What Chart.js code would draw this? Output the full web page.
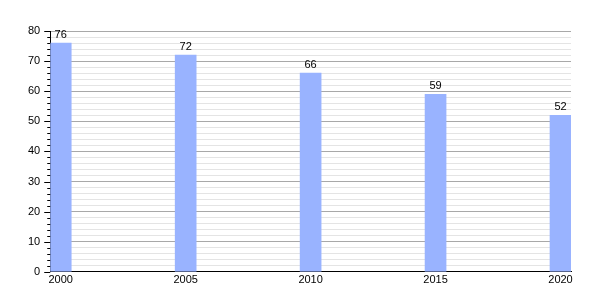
<!DOCTYPE html>
<html>
<head>
<meta charset="utf-8">
<script src="https://cdn.jsdelivr.net/npm/chart.js@4"></script>
<style>
  html, body { margin: 0; padding: 0; background: #fff; }
  #wrap { width: 600px; height: 300px; }
</style>
</head>
<body>
<div id="wrap"><canvas id="chart"></canvas></div>
<script>
const years = [2000, 2005, 2010, 2015, 2020];
const values = [76, 72, 66, 59, 52];
const yTicks = [0, 10, 20, 30, 40, 50, 60, 70, 80];

// bars start at the year and are a little under one year wide
const barYears = 0.84;

const valueLabels = {
  id: "valueLabels",
  afterDatasetsDraw(chart) {
    const ctx = chart.ctx;
    ctx.save();
    ctx.font = "11px 'Liberation Sans', Arial, sans-serif";
    ctx.fillStyle = "#000";
    ctx.textAlign = "center";
    ctx.textBaseline = "bottom";
    chart.getDatasetMeta(0).data.forEach((bar, i) => {
      ctx.fillText(values[i], bar.x, bar.y - 3);
    });
    ctx.restore();
  }
};

const minorTicks = {
  id: "minorTicks",
  afterDraw(chart) {
    const ctx = chart.ctx;
    const y = chart.scales.y;
    const left = chart.chartArea.left;
    ctx.save();
    ctx.strokeStyle = "#000";
    ctx.lineWidth = 1;
    for (let v = 0; v <= 80; v += 2) {
      const py = Math.round(y.getPixelForValue(v)) + 0.5;
      const len = yTicks.includes(v) ? 6 : 3;
      ctx.beginPath();
      ctx.moveTo(left - len, py);
      ctx.lineTo(left, py);
      ctx.stroke();
    }
    ctx.restore();
  }
};

new Chart(document.getElementById("chart"), {
  type: "bar",
  data: {
    datasets: [{
      data: years.map((yr, i) => ({ x: yr + barYears / 2, y: values[i] })),
      backgroundColor: "#99b3ff",
      borderWidth: 0,
      barThickness: 21
    }]
  },
  options: {
    responsive: true,
    maintainAspectRatio: false,
    animation: false,
    layout: { padding: { top: 31, right: 29, left: 18, bottom: 11 } },
    plugins: {
      legend: { display: false },
      tooltip: { enabled: false }
    },
    scales: {
      x: {
        type: "linear",
        offset: false,
        min: years[0],
        max: years[years.length - 1] + barYears,
        afterBuildTicks(scale) {
          scale.ticks = years.map(yr => ({ value: yr + barYears / 2 }));
        },
        ticks: {
          autoSkip: false,
          maxRotation: 0,
          color: "#000",
          padding: 2,
          font: { family: "'Liberation Sans', Arial, sans-serif", size: 11 },
          callback: v => String(Math.round(v - barYears / 2))
        },
        grid: { display: false, drawTicks: false },
        border: { display: true, color: "#000", width: 1 }
      },
      y: {
        min: 0,
        max: 80,
        ticks: {
          stepSize: 2,
          autoSkip: false,
          color: "#000",
          padding: 10,
          font: { family: "'Liberation Sans', Arial, sans-serif", size: 11 },
          callback: v => (yTicks.includes(v) ? v : "")
        },
        grid: {
          drawTicks: false,
          color: ctx => (yTicks.includes(ctx.tick.value) ? "#a8a8a8" : "#e4e4e4"),
          lineWidth: 1
        },
        border: { display: true, color: "#000", width: 1 }
      }
    }
  },
  plugins: [valueLabels, minorTicks]
});
</script>
</body>
</html>
